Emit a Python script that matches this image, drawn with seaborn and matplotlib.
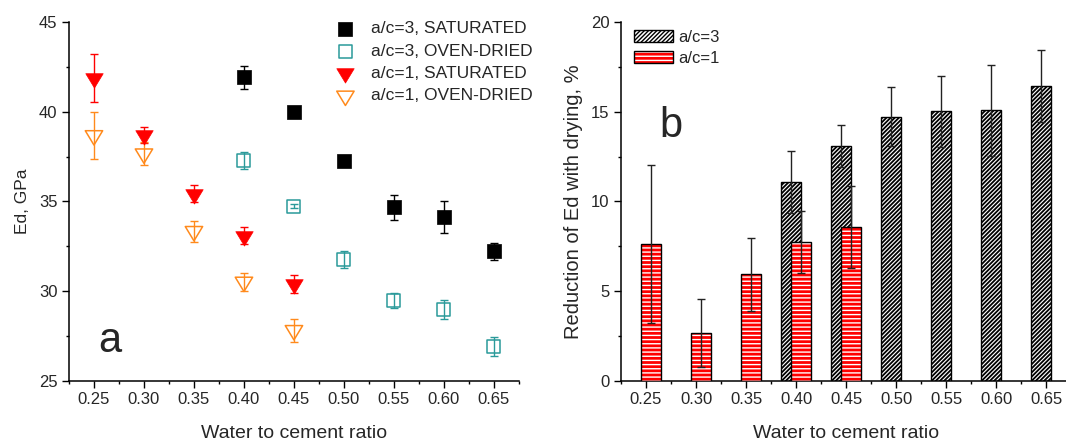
import numpy as np
import matplotlib
matplotlib.use("Agg")
import matplotlib.pyplot as plt
import matplotlib.patches as mpatches
from matplotlib.path import Path
from matplotlib.legend_handler import HandlerTuple
from matplotlib.ticker import MultipleLocator, FormatStrFormatter
import seaborn as sns

# ---- data -------------------------------------------------------------
wc_ticks = [0.25, 0.30, 0.35, 0.40, 0.45, 0.50, 0.55, 0.60, 0.65]
wc_ac3 = [0.40, 0.45, 0.50, 0.55, 0.60, 0.65]
wc_ac1 = [0.25, 0.30, 0.35, 0.40, 0.45]

# dynamic modulus Ed, GPa (mean and error)
ed_ac3_sat = [41.93, 39.98, 37.23, 34.66, 34.14, 32.21]
ed_ac3_sat_err = [0.65, 0.12, 0.12, 0.72, 0.90, 0.46]
ed_ac3_dry = [37.29, 34.74, 31.76, 29.47, 28.97, 26.90]
ed_ac3_dry_err = [0.48, 0.12, 0.49, 0.41, 0.52, 0.54]
ed_ac1_sat = [41.88, 38.70, 35.42, 33.08, 30.38]
ed_ac1_sat_err = [1.34, 0.45, 0.47, 0.47, 0.49]
ed_ac1_dry = [38.68, 37.66, 33.33, 30.50, 27.80]
ed_ac1_dry_err = [1.33, 0.63, 0.58, 0.49, 0.64]

# reduction of Ed with drying, %
red_ac3 = [11.06, 13.10, 14.74, 15.02, 15.09, 16.45]
red_ac3_err = [1.73, 1.19, 1.62, 1.97, 2.55, 1.99]
red_ac1 = [7.62, 2.66, 5.93, 7.75, 8.55]
red_ac1_err = [4.42, 1.89, 2.03, 1.73, 2.29]

labels_left = ["a/c=3, SATURATED", "a/c=3, OVEN-DRIED",
               "a/c=1, SATURATED", "a/c=1, OVEN-DRIED"]
labels_right = ["a/c=3", "a/c=1"]

# ---- style ------------------------------------------------------------
sns.set_style("ticks")
plt.rcParams["font.family"] = ["Liberation Sans", "DejaVu Sans"]
plt.rcParams["hatch.linewidth"] = 1.0
plt.rcParams["axes.linewidth"] = 1.1

C_SAT3 = "black"
C_DRY3 = "#2a9a9a"
C_SAT1 = "#ff0000"
C_DRY1 = "#ff8a1c"

# closed downward triangle with its centroid at the data point
tri_down = Path([(-1.0, 0.55), (1.0, 0.55), (0.0, -1.1), (-1.0, 0.55)],
                closed=True)

fig = plt.figure(figsize=(10.66, 4.44), dpi=100)
ax1 = fig.add_axes([0.0647, 0.1430, 0.4221, 0.8068])
ax2 = fig.add_axes([0.5826, 0.1430, 0.4221, 0.8068])


def style_axes(ax, ylim, ymajor):
    ax.set_xlim(0.225, 0.675)
    ax.set_ylim(*ylim)
    ax.set_xticks(wc_ticks)
    ax.xaxis.set_major_formatter(FormatStrFormatter("%.2f"))
    ax.xaxis.set_minor_locator(MultipleLocator(0.025))
    ax.yaxis.set_major_locator(MultipleLocator(ymajor))
    ax.yaxis.set_minor_locator(MultipleLocator(ymajor / 2))
    ax.tick_params(which="major", direction="out", length=4.8, width=1.0,
                   pad=3.5, labelsize=12, color="black")
    ax.tick_params(which="minor", direction="out", length=2.4, width=1.0,
                   color="black")
    for side in ("top", "right"):
        ax.spines[side].set_visible(False)
    for side in ("left", "bottom"):
        ax.spines[side].set_color("black")
    ax.set_xlabel("Water to cement ratio", fontsize=14, labelpad=13)


def thicken_hatch(patch, lw):
    if hasattr(patch, "set_hatch_linewidth"):
        patch.set_hatch_linewidth(lw)


# ---- panel a: Ed vs w/c -----------------------------------------------
series = [
    (wc_ac3, ed_ac3_sat, ed_ac3_sat_err, C_SAT3, "s", 95, True),
    (wc_ac3, ed_ac3_dry, ed_ac3_dry_err, C_DRY3, "s", 88, False),
    (wc_ac1, ed_ac1_sat, ed_ac1_sat_err, C_SAT1, tri_down, 190, True),
    (wc_ac1, ed_ac1_dry, ed_ac1_dry_err, C_DRY1, tri_down, 190, False),
]
handles_left = []
for (x, y, e, c, m, s, filled), lab in zip(series, labels_left):
    ax1.errorbar(x, y, yerr=e, fmt="none", ecolor=c, elinewidth=1.0,
                 capsize=3, capthick=1.0, zorder=2)
    if filled:
        sns.scatterplot(x=x, y=y, ax=ax1, marker=m, s=s, color=c,
                        edgecolor=c, linewidth=0.5, zorder=3)
    else:
        sns.scatterplot(x=x, y=y, ax=ax1, marker=m, s=s, color=c,
                        facecolor="none", edgecolor=c, linewidth=1.1,
                        zorder=3)
    handles_left.append(ax1.collections[-1])

style_axes(ax1, (25, 45), 5)
ax1.set_ylabel("Ed, GPa", fontsize=12.5, labelpad=6)
ax1.text(0.266, 26.6, "a", fontsize=30, ha="center", va="baseline")
ax1.legend(handles_left, labels_left, loc="upper left",
           bbox_to_anchor=(335 / 1066, 1 - 21 / 444),
           bbox_transform=fig.transFigure, frameon=False, fontsize=12.5,
           borderpad=0, borderaxespad=0, handlelength=1.2,
           handletextpad=0.85, labelspacing=0.42, scatterpoints=1)

# ---- panel b: reduction of Ed with drying -----------------------------
shift = 0.005
wc3 = np.array(wc_ac3) - shift
wc1 = np.array(wc_ac1) + shift

sns.barplot(x=wc3, y=red_ac3, ax=ax2, native_scale=True, width=0.4,
            color="white", saturation=1, edgecolor="black", linewidth=1.0,
            hatch="////////", errorbar=None, zorder=2)
for p in ax2.patches:
    thicken_hatch(p, 1.3)
ax2.errorbar(wc3, red_ac3, yerr=red_ac3_err, fmt="none", ecolor="#222222",
             elinewidth=1.0, capsize=2.6, capthick=1.0, zorder=3)

n_before = len(ax2.patches)
sns.barplot(x=wc1, y=red_ac1, ax=ax2, native_scale=True, width=0.4,
            color="#ff0000", saturation=1, edgecolor="white", linewidth=0,
            hatch="----", errorbar=None, zorder=4)
for p in list(ax2.patches[n_before:]):
    ax2.add_patch(mpatches.Rectangle(p.get_xy(), p.get_width(),
                                     p.get_height(), fill=False,
                                     edgecolor="black", linewidth=1.0,
                                     zorder=4.5))
ax2.errorbar(wc1, red_ac1, yerr=red_ac1_err, fmt="none", ecolor="#222222",
             elinewidth=1.0, capsize=2.6, capthick=1.0, zorder=5)

style_axes(ax2, (0, 20), 5)
ax2.set_ylabel("Reduction of Ed with drying, %", fontsize=14.5, labelpad=6)
ax2.text(0.275, 13.57, "b", fontsize=30, ha="center", va="baseline")

h3 = mpatches.Patch(facecolor="white", edgecolor="black", hatch="////////",
                    linewidth=1.0)
thicken_hatch(h3, 1.3)
h1 = (mpatches.Patch(facecolor="#ff0000", edgecolor="white", hatch="----",
                     linewidth=0),
      mpatches.Patch(fill=False, edgecolor="black", linewidth=1.0))
ax2.legend([h3, h1], labels_right, loc="upper left",
           bbox_to_anchor=(634 / 1066, 1 - 30 / 444),
           bbox_transform=fig.transFigure, frameon=False, fontsize=12,
           borderpad=0, borderaxespad=0, handlelength=2.35,
           handleheight=0.75, handletextpad=0.3, labelspacing=0.35,
           handler_map={tuple: HandlerTuple(ndivide=1, pad=0)})

fig.savefig("out.png", dpi=100)
